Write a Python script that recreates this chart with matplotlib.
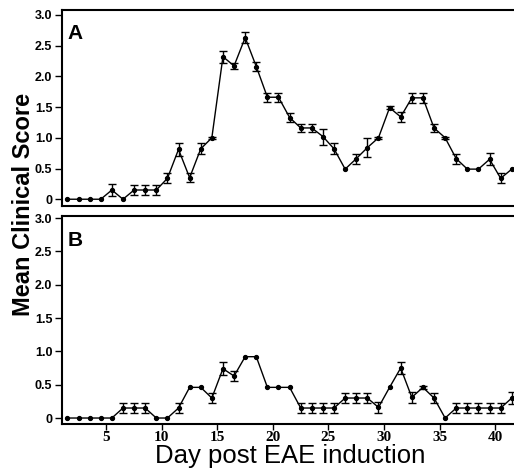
import numpy as np
import matplotlib
matplotlib.use('Agg')
import matplotlib.pyplot as plt

days = np.arange(1, 42)

# panel A: mean clinical score and SEM
score_a = [0, 0, 0, 0, 0.15, 0, 0.15, 0.15, 0.15, 0.34,
           0.81, 0.35, 0.82, 1.0, 2.32, 2.17, 2.63, 2.16, 1.66, 1.66,
           1.33, 1.16, 1.16, 1.02, 0.82, 0.49, 0.66, 0.84, 1.0, 1.49,
           1.34, 1.65, 1.65, 1.16, 1.0, 0.66, 0.49, 0.49, 0.65, 0.34,
           0.49]
sem_a = [0, 0, 0, 0, 0.09, 0, 0.08, 0.08, 0.08, 0.08,
         0.1, 0.07, 0.09, 0.02, 0.1, 0.05, 0.09, 0.08, 0.07, 0.07,
         0.07, 0.07, 0.07, 0.13, 0.09, 0, 0.08, 0.16, 0.02, 0.02,
         0.08, 0.08, 0.08, 0.07, 0.02, 0.08, 0, 0, 0.1, 0.08,
         0]

# panel B
score_b = [0, 0, 0, 0, 0, 0.15, 0.15, 0.15, 0, 0,
           0.15, 0.46, 0.46, 0.30, 0.74, 0.63, 0.92, 0.92, 0.46, 0.46,
           0.46, 0.15, 0.15, 0.15, 0.15, 0.30, 0.30, 0.30, 0.16, 0.46,
           0.75, 0.31, 0.46, 0.30, 0, 0.15, 0.15, 0.15, 0.15, 0.15,
           0.30]
sem_b = [0, 0, 0, 0, 0, 0.08, 0.08, 0.08, 0, 0,
         0.08, 0, 0, 0.08, 0.1, 0.07, 0, 0, 0, 0,
         0, 0.08, 0.08, 0.08, 0.08, 0.08, 0.08, 0.08, 0.08, 0,
         0.09, 0.08, 0.02, 0.08, 0, 0.08, 0.08, 0.08, 0.08, 0.08,
         0.09]

y_ticks = [0, 0.5, 1.0, 1.5, 2.0, 2.5, 3.0]
y_labels = ['0', '0.5', '1.0', '1.5', '2.0', '2.5', '3.0']
x_ticks = [5, 10, 15, 20, 25, 30, 35, 40]

fig = plt.figure(figsize=(5.14, 4.69), dpi=100)
ax_a = fig.add_axes([0.1206, 0.5608, 0.8794, 0.4179])
ax_b = fig.add_axes([0.1206, 0.0959, 0.8794, 0.4435])

panels = [(ax_a, score_a, sem_a, 'A', (-0.11, 3.08)),
          (ax_b, score_b, sem_b, 'B', (-0.09, 3.03))]

for ax, score, sem, letter, ylim in panels:
    # no bar where the SEM is zero
    err = np.where(np.array(sem) > 0, sem, np.nan)
    ax.plot(days, score, color='black', linewidth=1.0,
            marker='o', markersize=2.8)
    ax.errorbar(days, score, yerr=err, fmt='none', ecolor='black',
                capsize=3, capthick=1.0, elinewidth=1.0)
    ax.set_xlim(0.51, 41.2)
    ax.set_ylim(*ylim)
    ax.set_yticks(y_ticks, y_labels)
    for lab in ax.get_yticklabels():
        lab.set_fontweight('bold')
        lab.set_fontfamily('Liberation Sans')
        lab.set_fontsize(9)
    ax.tick_params(axis='y', direction='out', length=5, width=1, pad=2)
    ax.spines['right'].set_visible(False)
    for side in ['left', 'top', 'bottom']:
        ax.spines[side].set_linewidth(1.5)
    ax.text(0.012, 0.93, letter, transform=ax.transAxes, fontsize=15,
            fontweight='bold', family='Liberation Sans', va='top', ha='left')

ax_a.set_xticks([])
ax_b.set_xticks(np.array(x_ticks) - 0.5, [str(t) for t in x_ticks])
for lab in ax_b.get_xticklabels():
    lab.set_fontweight('bold')
    lab.set_fontfamily('Liberation Serif')
    lab.set_fontsize(11)
ax_b.tick_params(axis='x', direction='out', length=4, width=1, pad=1)

fig.text(0.045, 0.565, 'Mean Clinical Score', rotation=90, fontsize=17,
         fontweight='bold', family='Liberation Sans', ha='center', va='center')
fig.text(0.564, 0.028, 'Day post EAE induction', fontsize=18.5,
         family='Liberation Sans', ha='center', va='center')

fig.savefig('out.png', dpi=100)
